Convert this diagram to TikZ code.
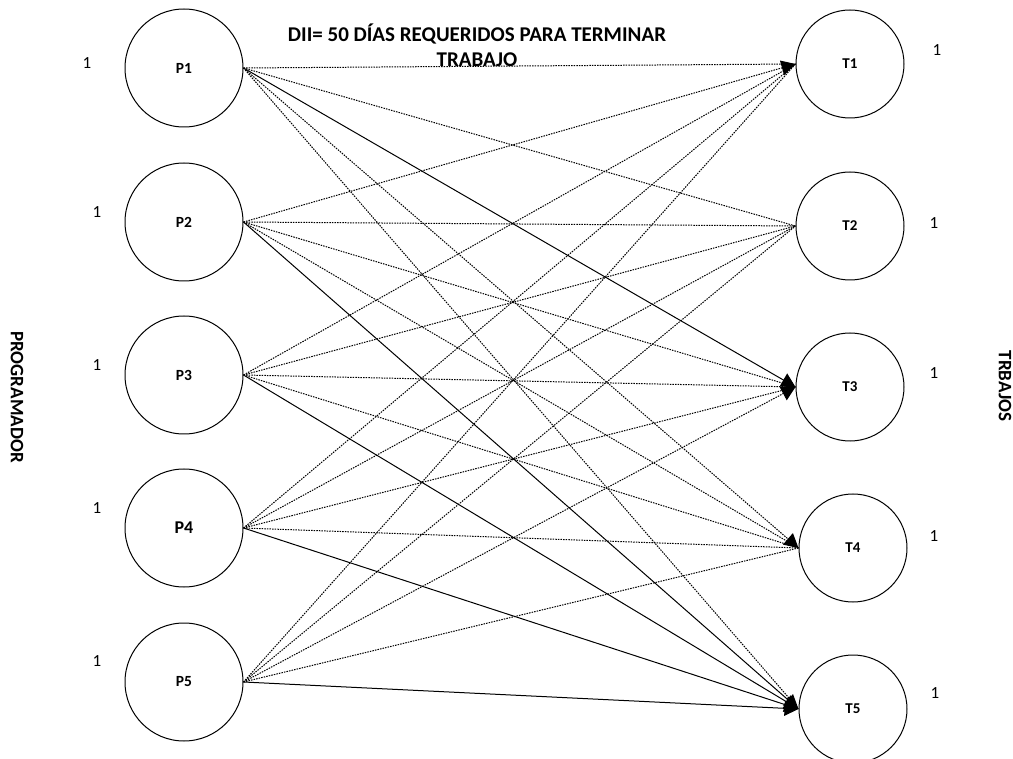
\documentclass[tikz,border=0pt]{standalone}
\usepackage{fontspec}
\setmainfont{Carlito}
\usetikzlibrary{arrows.meta}
\begin{document}
\begin{tikzpicture}[x=1pt,y=-1pt,
  pnode/.style={draw, circle, line width=1pt, minimum size=118pt, inner sep=0pt, font=\bfseries\fontsize{15.5}{17}\selectfont},
  tnode/.style={draw, circle, line width=1pt, minimum size=108pt, inner sep=0pt, font=\bfseries\fontsize{15}{17}\selectfont},
  dotl/.style={line width=1pt, dash pattern=on 1.5pt off 1.1pt},
  soll/.style={line width=1pt},
  tipped/.style={-{Triangle[length=14pt,width=15pt]}},
  onelab/.style={font=\fontsize{17}{19}\selectfont, inner sep=0pt},
  sidelab/.style={font=\bfseries\fontsize{19}{22}\selectfont, rotate=-90, inner sep=0pt}
]
\useasboundingbox (0,0) rectangle (1013,759);
% left nodes
\node[pnode] (P1) at (184,68) {P1};
\node[pnode] (P2) at (184,222) {P2};
\node[pnode] (P3) at (184,375) {P3};
\node[pnode, font=\bfseries\fontsize{18}{20}\selectfont] (P4) at (184,528) {P4};
\node[pnode] (P5) at (184,682) {P5};
% right nodes
\node[tnode] (T1) at (850,64) {T1};
\node[tnode] (T2) at (850,226) {T2};
\node[tnode] (T3) at (850,387) {T3};
\node[tnode] (T4) at (853,548) {T4};
\node[tnode] (T5) at (853,709) {T5};
% capacity labels
\node[onelab] (l1) at (87,63) {1};
\node[onelab] (l2) at (97,212) {1};
\node[onelab] (l3) at (97,365) {1};
\node[onelab] (l4) at (97,508) {1};
\node[onelab] (l5) at (97,661) {1};
\node[onelab] (r1) at (937,50) {1};
\node[onelab] (r2) at (934,223) {1};
\node[onelab] (r3) at (934,373) {1};
\node[onelab] (r4) at (934,536) {1};
\node[onelab] (r5) at (935,693) {1};
% side labels
\node[sidelab] (prog) at (17,397) {PROGRAMADOR};
\node[sidelab] (trab) at (1005,386) {TRBAJOS};
% title
\node[font=\bfseries\fontsize{21}{25}\selectfont, align=center, inner sep=0pt] (title) at (477,45) {DII= 50 DÍAS REQUERIDOS PARA TERMINAR\\TRABAJO};
% connectors from P1
\draw[dotl] (P1.east) -- (T1.west);
\draw[dotl] (P1.east) -- (T2.west);
\draw[soll, tipped] (P1.east) -- (T3.west);
\draw[dotl, tipped] (P1.east) -- (T4.west);
\draw[dotl] (P1.east) -- (T5.west);
% from P2
\draw[dotl, tipped] (P2.east) -- (T1.west);
\draw[dotl] (P2.east) -- (T2.west);
\draw[dotl] (P2.east) -- (T3.west);
\draw[dotl] (P2.east) -- (T4.west);
\draw[soll, tipped] (P2.east) -- (T5.west);
% from P3
\draw[dotl] (P3.east) -- (T1.west);
\draw[dotl] (P3.east) -- (T2.west);
\draw[dotl] (P3.east) -- (T3.west);
\draw[dotl] (P3.east) -- (T4.west);
\draw[soll, tipped] (P3.east) -- (T5.west);
% from P4
\draw[dotl] (P4.east) -- (T1.west);
\draw[dotl] (P4.east) -- (T2.west);
\draw[dotl] (P4.east) -- (T3.west);
\draw[dotl] (P4.east) -- (T4.west);
\draw[soll, tipped] (P4.east) -- (T5.west);
% from P5
\draw[dotl] (P5.east) -- (T1.west);
\draw[dotl] (P5.east) -- (T2.west);
\draw[dotl, tipped] (P5.east) -- (T3.west);
\draw[dotl] (P5.east) -- (T4.west);
\draw[soll, tipped] (P5.east) -- (T5.west);
\end{tikzpicture}
\end{document}
